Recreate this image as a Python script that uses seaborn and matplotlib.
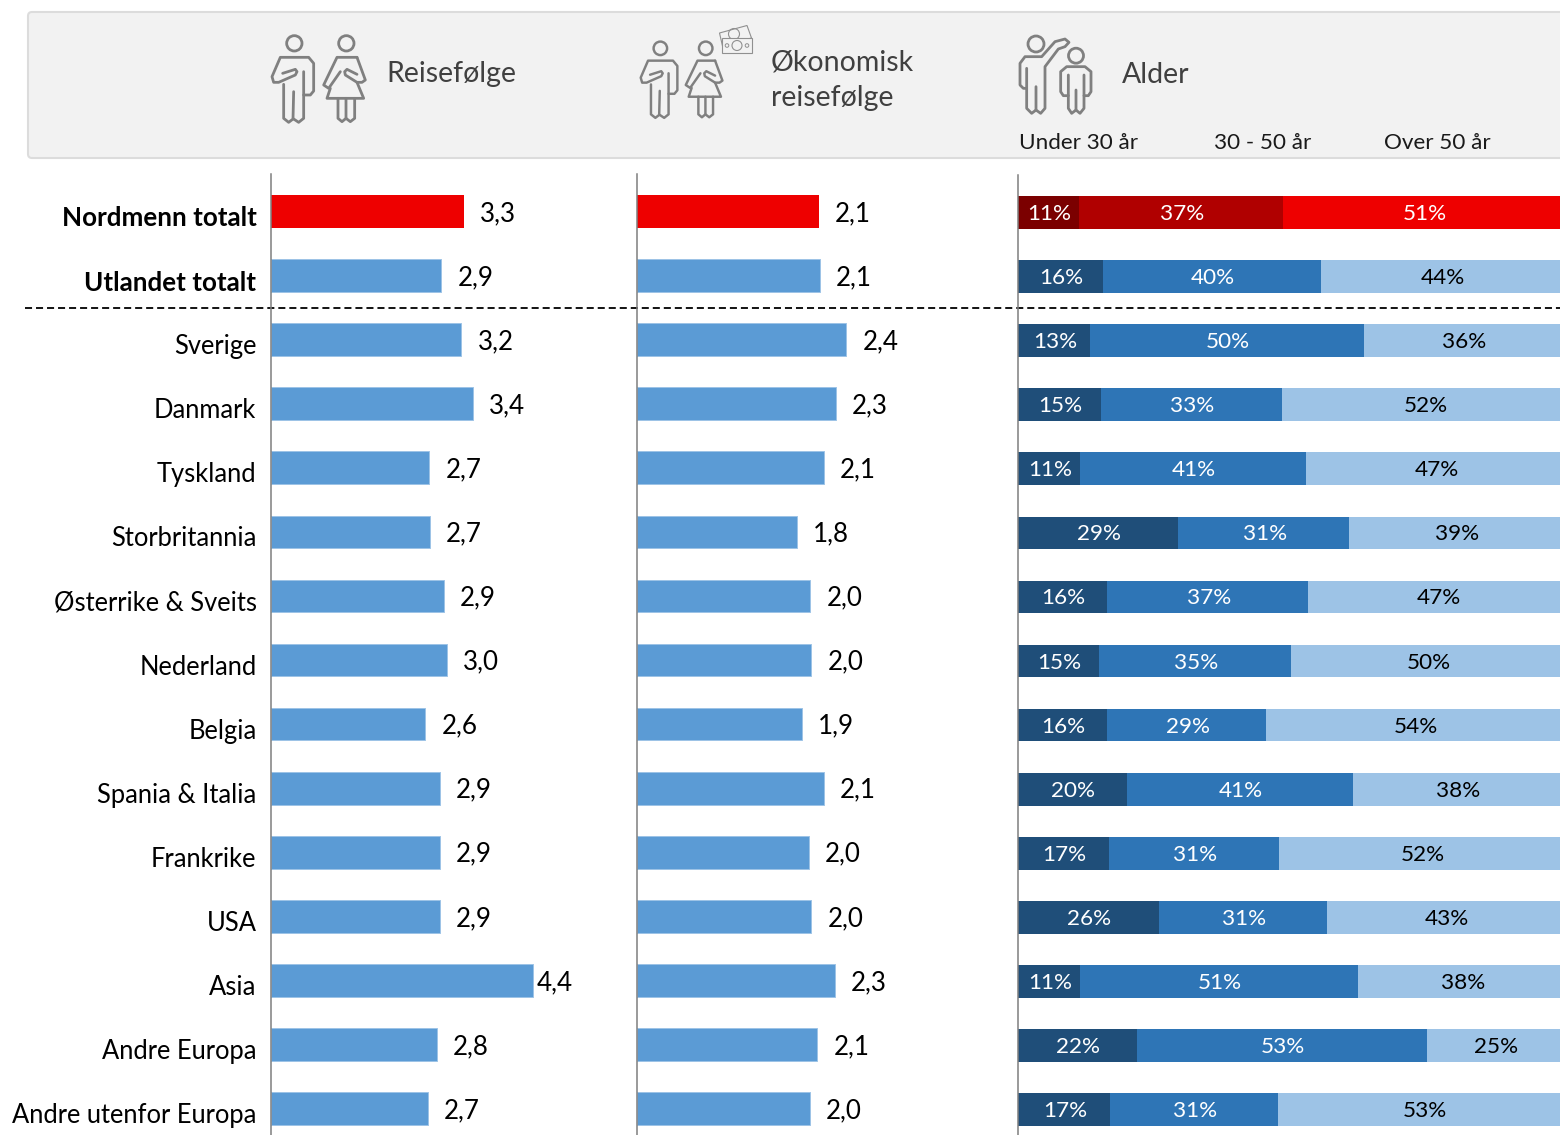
import numpy as np
import pandas as pd
import seaborn as sns
import matplotlib.pyplot as plt
from matplotlib.patches import FancyBboxPatch, Circle, Polygon

sns.set_theme(style='white')
plt.rcParams['font.family'] = ['Lato', 'DejaVu Sans']

countries = ['Nordmenn totalt', 'Utlandet totalt', 'Sverige', 'Danmark', 'Tyskland',
             'Storbritannia', 'Østerrike & Sveits', 'Nederland', 'Belgia', 'Spania & Italia',
             'Frankrike', 'USA', 'Asia', 'Andre Europa', 'Andre utenfor Europa']
reisefolge = [3.27, 2.88, 3.22, 3.42, 2.68, 2.69, 2.92, 2.98, 2.61, 2.86, 2.86, 2.86, 4.42, 2.80, 2.66]
okonomisk = [2.09, 2.10, 2.40, 2.28, 2.14, 1.84, 1.99, 2.00, 1.89, 2.14, 1.97, 2.00, 2.27, 2.07, 1.98]
under30 = [11.1, 15.5, 13.1, 15.1, 11.3, 29.1, 16.2, 14.7, 16.2, 19.8, 16.6, 25.6, 11.2, 21.6, 16.7]
mellom = [37.1, 39.6, 49.8, 32.9, 41.1, 31.1, 36.6, 34.9, 28.9, 41.1, 30.9, 30.6, 50.6, 52.7, 30.6]
over50 = [51, 44, 36, 52, 47, 39, 47, 50, 54, 38, 52, 43, 38, 25, 53]

W, H = 1560, 1135
RED, BLUE = '#EE0000', '#5B9BD5'
GREY = '#808080'
TOP, BOTTOM = 175, 1135
ROW = 64.08
ylims = ((BOTTOM - 212) / ROW, (TOP - 212) / ROW)

df = pd.DataFrame({'land': countries, 'reise': reisefolge, 'okonomi': okonomisk,
                   'u30': under30, 'm3050': mellom, 'o50': over50})


def make_axes(left, right, dy=0.0):
    a = fig.add_axes([left / W, 1 - (BOTTOM + dy) / H, (right - left) / W, (BOTTOM - TOP) / H])
    a.patch.set_alpha(0)
    return a


def clean(a, xmax):
    a.set_xlim(0, xmax)
    a.set_ylim(*ylims)
    a.set_xlabel('')
    a.set_ylabel('')
    a.set_xticks([])
    a.set_yticks([])
    sns.despine(ax=a, top=True, right=True, bottom=True)
    a.spines['left'].set_color('#7F7F7F')
    a.spines['left'].set_linewidth(1.1)


def value_bars(a, col, xmax):
    pal = [RED] + [BLUE] * 14
    sns.barplot(data=df, x=col, y='land', hue='land', palette=pal, legend=False,
                width=0.51, saturation=1, linewidth=0, ax=a)
    for p in a.patches:
        if p.get_facecolor()[0] < 0.5:
            p.set_edgecolor('#9DC3E6')
            p.set_linewidth(0.7)
    clean(a, xmax)
    for i, v in enumerate(df[col]):
        off = 4 if v > 4 else 16
        a.annotate(f'{v:.1f}'.replace('.', ','), (v, i), xytext=(off, -2), textcoords='offset pixels',
                   ha='left', va='center', fontsize=18.7, color='black')


fig = plt.figure(figsize=(W / 100, H / 100), dpi=100)

# header and other stuff in pixel coords
bg = fig.add_axes([0, 0, 1, 1])
bg.set_xlim(0, W)
bg.set_ylim(H, 0)
bg.axis('off')
bg.add_patch(FancyBboxPatch((30, 14), 1600, 142, boxstyle='round,pad=2,rounding_size=4',
                            fc='#F2F2F2', ec='#DCDCDC', lw=1.5))


def trace(pts, ox, oy, s=1.0, lw=2.0):
    bg.plot([ox + p[0] / 3 * s for p in pts], [oy + p[1] / 3 * s for p in pts], color=GREY, lw=lw,
            solid_joinstyle='round', solid_capstyle='round')


def man(ox, oy, s=1.0):
    bg.add_patch(Circle((ox + 97 / 3 * s, oy + 55 / 3 * s), 23 / 3 * s, fc='none', ec=GREY, lw=2 * s))
    trace([(125, 210), (145, 210), (155, 198), (155, 115), (140, 97), (55, 97), (30, 155), (35, 172), (50, 172),
           (100, 150), (105, 140), (100, 133), (62, 145)], ox, oy, s, 2 * s)
    trace([(65, 178), (65, 280), (80, 292), (93, 282), (95, 200)], ox, oy, s, 2 * s)
    trace([(95, 282), (110, 292), (125, 280), (125, 140)], ox, oy, s, 2 * s)


def woman(ox, oy, s=1.0):
    bg.add_patch(Circle((ox + 253 / 3 * s, oy + 55 / 3 * s), 23 / 3 * s, fc='none', ec=GREY, lw=2 * s))
    trace([(285, 97), (310, 165), (300, 172), (285, 172), (250, 150), (248, 140), (255, 133), (285, 148)], ox, oy, s, 2 * s)
    trace([(285, 97), (225, 97), (185, 180), (200, 190), (235, 140)], ox, oy, s, 2 * s)
    trace([(205, 190), (195, 220), (305, 220), (285, 172)], ox, oy, s, 2 * s)
    trace([(228, 220), (228, 280), (240, 290), (252, 280), (252, 220)], ox, oy, s, 2 * s)
    trace([(252, 280), (265, 290), (278, 280), (278, 220)], ox, oy, s, 2 * s)


man(262, 25)
woman(262, 25)
man(631.9, 32.2, 0.88)
woman(631.5, 32.2, 0.88)

# pengesedler
bg.add_patch(Polygon([(719.5, 33), (747, 25.5), (751.5, 38), (722.5, 46)], closed=True, fc='#F2F2F2', ec='#909090', lw=0.8))
bg.add_patch(Circle((734, 34), 5.5, fc='none', ec='#909090', lw=0.8))
bg.add_patch(Polygon([(722, 38), (752, 38), (752, 53), (722, 53)], closed=True, fc='#F2F2F2', ec='#909090', lw=0.8))
bg.add_patch(Circle((737, 45.5), 5, fc='none', ec='#909090', lw=0.8))
for cx in (727, 747):
    bg.add_patch(Circle((cx, 45.5), 1.8, fc='none', ec='#909090', lw=0.7))

# voksen med barn
bg.add_patch(Circle((1036, 44), 8, fc='none', ec=GREY, lw=2))
trace([(50, 190), (40, 190), (30, 180), (30, 115), (45, 95), (95, 95), (135, 50), (165, 42), (177, 52), (165, 65),
       (145, 72), (105, 125), (105, 250), (92, 265), (78, 255), (78, 185)], 1010, 25)
trace([(78, 255), (65, 265), (50, 250), (50, 130)], 1010, 25)
bg.add_patch(Circle((1076, 55.7), 7.5, fc='none', ec=GREY, lw=2))
trace([(175, 212), (160, 212), (152, 200), (152, 140), (170, 125), (225, 125), (243, 140), (243, 200), (235, 212), (222, 212)], 1010, 25)
trace([(222, 150), (222, 250), (210, 265), (198, 255), (198, 195)], 1010, 25)
trace([(198, 255), (185, 265), (175, 250), (175, 150)], 1010, 25)

for x, y, s in ((386, 74, 'Reisefølge'), (771, 63, 'Økonomisk'), (771, 98, 'reisefølge'), (1122, 75, 'Alder')):
    bg.text(x, y, s, fontsize=20.5, color='#404040', va='center', ha='left')
for x, s in ((1019, 'Under 30 år'), (1214, '30 - 50 år'), (1384, 'Over 50 år')):
    bg.text(x, 143, s, fontsize=16.2, color='#1A1A1A', va='center', ha='left')

bg.plot([25, W], [308, 308], color='black', lw=1.3, ls=(0, (3.9, 2.2)))

ax1 = make_axes(270.5, 637, -0.5)
value_bars(ax1, 'reise', (637 - 270.5) / 59.3)
for i, s in enumerate(countries):
    ax1.annotate(s, (0, i), xytext=(-14, -7), textcoords='offset pixels', ha='right', va='center',
                 fontsize=18.7 if i < 2 else 18.4, color='black', fontweight='bold' if i < 2 else 'normal',
                 annotation_clip=False)

ax2 = make_axes(636.5, 1017, -0.5)
value_bars(ax2, 'okonomi', (1017 - 636.5) / 87.4)

ax3 = make_axes(1018, W, 0.5)
reds = ['#7B0000', '#B00000', RED]
blues = ['#1F4E79', '#2E75B6', '#9DC3E6']
segs = ['u30', 'm3050', 'o50']
left = df[segs].cumsum(axis=1).shift(1, axis=1).fillna(0)
ends = df[segs].cumsum(axis=1)
# widest first, the shorter ones paint over it
for k in [2, 1, 0]:
    pal = [reds[k]] + [blues[k]] * 14
    sns.barplot(x=ends[segs[k]], y=df['land'], hue=df['land'], palette=pal, legend=False, width=0.51,
                saturation=1, linewidth=0, ax=ax3)
    for i, v in enumerate(df[segs[k]]):
        txt = 'black' if k == 2 and i > 0 else 'white'
        ax3.annotate(f'{round(v)}%', (left[segs[k]][i] + v / 2, i), xytext=(1, -1.5), textcoords='offset pixels',
                     ha='center', va='center', fontsize=16.2, color=txt)
clean(ax3, (W - 1018) / 5.5)

fig.savefig('out.png', dpi=100)
